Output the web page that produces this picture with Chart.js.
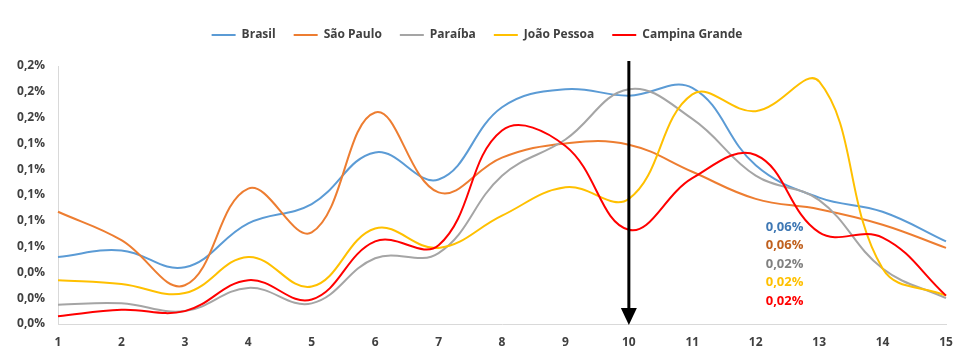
<!DOCTYPE html>
<html>
<head>
<meta charset="utf-8">
<script src="https://cdn.jsdelivr.net/npm/chart.js@4.4.1/dist/chart.umd.min.js"></script>
<style>
  html, body { margin: 0; padding: 0; background: #ffffff; }
  #wrap { width: 954px; height: 351px; position: relative; }
</style>
</head>
<body>
<div id="wrap"><canvas id="c" width="954" height="351"></canvas></div>
<script>
// Categories along the x axis
const categories = ['1','2','3','4','5','6','7','8','9','10','11','12','13','14','15'];

// Series values, in percent
const brasil        = [0.052, 0.057, 0.044, 0.078, 0.093, 0.133, 0.112, 0.168, 0.182, 0.177, 0.183, 0.123, 0.098, 0.087, 0.064];
const saoPaulo      = [0.087, 0.065, 0.030, 0.105, 0.071, 0.164, 0.102, 0.129, 0.140, 0.139, 0.118, 0.097, 0.089, 0.077, 0.059];
const paraiba       = [0.015, 0.016, 0.010, 0.028, 0.016, 0.051, 0.055, 0.115, 0.143, 0.182, 0.159, 0.115, 0.096, 0.043, 0.020];
const joaoPessoa    = [0.034, 0.031, 0.024, 0.052, 0.029, 0.074, 0.059, 0.084, 0.106, 0.097, 0.178, 0.165, 0.188, 0.043, 0.022];
const campinaGrande = [0.006, 0.011, 0.010, 0.034, 0.019, 0.064, 0.061, 0.150, 0.138, 0.073, 0.113, 0.131, 0.071, 0.067, 0.022];

// Y axis tick values, in percent
const yTicks = [0, 0.02, 0.04, 0.06, 0.08, 0.10, 0.12, 0.14, 0.16, 0.18, 0.20];

// Category where the marker arrow is drawn
const markerCategory = '10';

const seriesNames = ['Brasil', 'São Paulo', 'Paraíba', 'João Pessoa', 'Campina Grande'];
const seriesData = [brasil, saoPaulo, paraiba, joaoPessoa, campinaGrande];
const lineColors = ['#5b9bd5', '#ed7d31', '#a5a5a5', '#ffc000', '#ff0000'];
const labelColors = ['#3f78b4', '#c0601e', '#808080', '#ffc000', '#ff0000'];

const fmt = (v, d) => v.toFixed(d).replace('.', ',') + '%';

// Extra space between the legend and the plot area
const legendGapPlugin = {
  id: 'legendGap',
  beforeLayout(chart) {
    const lg = chart.legend;
    if (lg && !lg._gapWrapped) {
      const fit = lg.fit;
      lg.fit = function () { fit.call(this); this.height += 15; };
      lg._gapWrapped = true;
    }
  }
};

// Vertical arrow at the marked category
const arrowPlugin = {
  id: 'arrow',
  afterDatasetsDraw(chart) {
    const ctx = chart.ctx;
    const x = chart.scales.x.getPixelForValue(categories.indexOf(markerCategory));
    const bottom = chart.chartArea.bottom;
    const top = chart.chartArea.top - 5;
    ctx.save();
    ctx.strokeStyle = '#000';
    ctx.fillStyle = '#000';
    ctx.lineWidth = 3;
    ctx.beginPath();
    ctx.moveTo(x, top);
    ctx.lineTo(x, bottom - 14);
    ctx.stroke();
    ctx.beginPath();
    ctx.moveTo(x - 8, bottom - 16);
    ctx.lineTo(x + 8, bottom - 16);
    ctx.lineTo(x, bottom + 1);
    ctx.closePath();
    ctx.fill();
    ctx.restore();
  }
};

// Final values of each series, listed beside the lines
const endLabelsPlugin = {
  id: 'endLabels',
  afterDatasetsDraw(chart) {
    const ctx = chart.ctx;
    const xs = chart.scales.x, ys = chart.scales.y;
    const x0 = xs.getPixelForValue(11) + 10;
    const y0 = ys.getPixelForValue(0.075);
    ctx.save();
    ctx.font = 'bold 13px "Open Sans", "Liberation Sans", sans-serif';
    ctx.textAlign = 'left';
    ctx.textBaseline = 'middle';
    seriesData.forEach((d, i) => {
      ctx.fillStyle = labelColors[i];
      ctx.fillText(fmt(d[d.length - 1], 2), x0, y0 + i * 18.5);
    });
    ctx.restore();
  }
};

new Chart(document.getElementById('c'), {
  type: 'line',
  data: {
    labels: categories,
    datasets: seriesData.map((d, i) => ({
      label: seriesNames[i],
      data: d,
      borderColor: lineColors[i],
      backgroundColor: lineColors[i],
      borderWidth: 2,
      pointRadius: 0,
      tension: 0.4,
      fill: false,
      order: seriesData.length - i
    }))
  },
  options: {
    responsive: false,
    animation: false,
    devicePixelRatio: 1,
    layout: { padding: { left: 0, right: 0, top: 11, bottom: 0 } },
    plugins: {
      legend: {
        position: 'top',
        labels: {
          usePointStyle: true,
          pointStyle: 'line',
          pointStyleWidth: 24,
          boxHeight: 10,
          padding: 18,
          color: '#404040',
          font: { family: '"Open Sans", "Liberation Sans", sans-serif', size: 12, weight: 'bold' },
          sort: (a, b) => a.datasetIndex - b.datasetIndex
        }
      },
      tooltip: { enabled: false }
    },
    scales: {
      x: {
        offset: false,
        grid: { display: false, drawTicks: false },
        border: { display: true, color: '#d9d9d9', width: 1 },
        ticks: {
          color: '#404040',
          padding: 11,
          maxRotation: 0,
          autoSkip: false,
          font: { family: '"Open Sans", "Liberation Sans", sans-serif', size: 12, weight: 'bold' }
        },
        afterFit(s) { s.height = 27; s.paddingLeft = 0; s.paddingRight = 8; }
      },
      y: {
        min: 0,
        max: 0.2,
        grid: { display: false, drawTicks: false },
        border: { display: true, color: '#d9d9d9', width: 1 },
        afterBuildTicks(s) { s.ticks = yTicks.map(v => ({ value: v })); },
        ticks: {
          color: '#404040',
          padding: 13,
          autoSkip: false,
          font: { family: '"Open Sans", "Liberation Sans", sans-serif', size: 12, weight: 'bold' },
          callback: (v) => fmt(v, 1)
        },
        afterFit(s) { s.width = 58; }
      }
    }
  },
  plugins: [legendGapPlugin, arrowPlugin, endLabelsPlugin]
});
</script>
</body>
</html>
